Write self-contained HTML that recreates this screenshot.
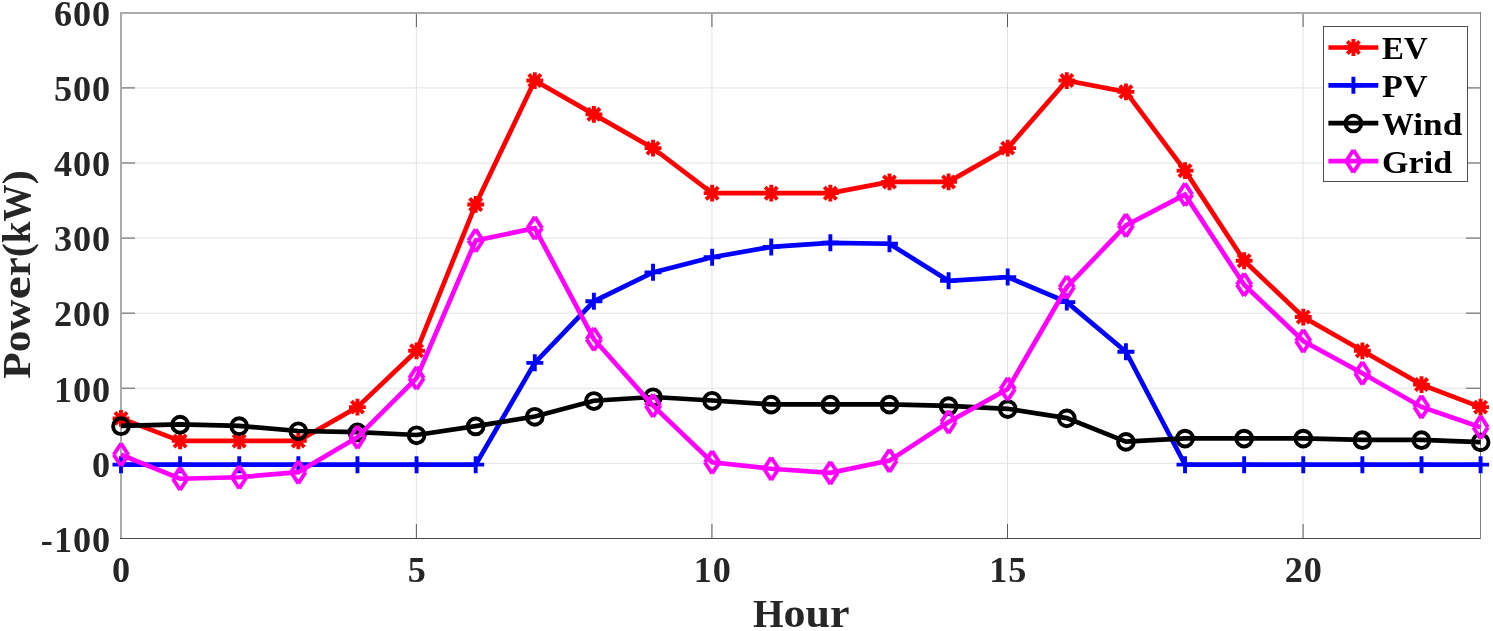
<!DOCTYPE html>
<html lang="en"><head><meta charset="utf-8"><title>Power vs Hour</title>
<style>
html,body{margin:0;padding:0;background:#fff;}
body{width:1493px;height:631px;overflow:hidden;}
svg{display:block;}
text{font-family:"Liberation Serif","DejaVu Serif",serif;font-weight:bold;}
.tk{font-size:34.8px;fill:#262626;letter-spacing:0.96px;}
.lb{font-size:40.4px;fill:#262626;}
.lg{font-size:32.4px;fill:#000;}
</style></head><body>
<svg width="1493" height="631" viewBox="0 0 1493 631">
<rect width="1493" height="631" fill="#fff"/>
<g fill="#e2e2e2"><rect x="122" y="87.42" width="1358" height="1"/><rect x="122" y="162.49" width="1358" height="1"/><rect x="122" y="237.56" width="1358" height="1"/><rect x="122" y="312.64" width="1358" height="1"/><rect x="122" y="387.71" width="1358" height="1"/><rect x="122" y="462.78" width="1358" height="1"/><rect x="415.87" y="14" width="1" height="524"/><rect x="711.43" y="14" width="1" height="524"/><rect x="1007" y="14" width="1" height="524"/><rect x="1302.56" y="14" width="1" height="524"/></g>
<g shape-rendering="crispEdges"><rect x="120" y="12" width="1361" height="2" fill="#aaaaaa"/><rect x="120" y="12" width="2" height="527" fill="#aaaaaa"/><rect x="120" y="538" width="1361" height="1" fill="#4a4a4a"/><rect x="1480" y="12" width="1" height="527" fill="#808080"/></g>
<g fill="#5a5a5a"><rect x="415.87" y="524" width="1" height="14"/><rect x="415.87" y="14" width="1" height="13"/><rect x="711.43" y="524" width="1" height="14"/><rect x="711.43" y="14" width="1" height="13"/><rect x="1007" y="524" width="1" height="14"/><rect x="1007" y="14" width="1" height="13"/><rect x="1302.56" y="524" width="1" height="14"/><rect x="1302.56" y="14" width="1" height="13"/><rect x="122" y="87.42" width="13" height="1"/><rect x="1466" y="87.42" width="14" height="1"/><rect x="122" y="162.49" width="13" height="1"/><rect x="1466" y="162.49" width="14" height="1"/><rect x="122" y="237.56" width="13" height="1"/><rect x="1466" y="237.56" width="14" height="1"/><rect x="122" y="312.64" width="13" height="1"/><rect x="1466" y="312.64" width="14" height="1"/><rect x="122" y="387.71" width="13" height="1"/><rect x="1466" y="387.71" width="14" height="1"/><rect x="122" y="462.78" width="13" height="1"/><rect x="1466" y="462.78" width="14" height="1"/></g>
<polyline points="121,418.39 180.11,440.91 239.23,440.91 298.34,440.91 357.45,407.12 416.57,350.82 475.68,204.43 534.79,80.56 593.9,114.35 653.02,148.13 712.13,193.17 771.24,193.17 830.36,193.17 889.47,181.91 948.58,181.91 1007.7,148.13 1066.81,80.56 1125.92,91.83 1185.03,170.65 1244.15,260.74 1303.26,317.04 1362.37,350.82 1421.49,384.6 1480.6,407.12" fill="none" stroke="#ff0000" stroke-width="4.7" stroke-linejoin="miter"/>
<path d="M112.6 418.39H129.4M121 409.99V426.79M114.9 412.29L127.1 424.49M114.9 424.49L127.1 412.29" stroke="#ff0000" stroke-width="3.9" fill="none"/><path d="M171.71 440.91H188.51M180.11 432.51V449.31M174.01 434.81L186.21 447.01M174.01 447.01L186.21 434.81" stroke="#ff0000" stroke-width="3.9" fill="none"/><path d="M230.83 440.91H247.63M239.23 432.51V449.31M233.13 434.81L245.33 447.01M233.13 447.01L245.33 434.81" stroke="#ff0000" stroke-width="3.9" fill="none"/><path d="M289.94 440.91H306.74M298.34 432.51V449.31M292.24 434.81L304.44 447.01M292.24 447.01L304.44 434.81" stroke="#ff0000" stroke-width="3.9" fill="none"/><path d="M349.05 407.12H365.85M357.45 398.73V415.52M351.35 401.02L363.55 413.23M351.35 413.23L363.55 401.02" stroke="#ff0000" stroke-width="3.9" fill="none"/><path d="M408.17 350.82H424.97M416.57 342.42V359.22M410.47 344.72L422.67 356.92M410.47 356.92L422.67 344.72" stroke="#ff0000" stroke-width="3.9" fill="none"/><path d="M467.28 204.43H484.08M475.68 196.03V212.83M469.58 198.33L481.78 210.53M469.58 210.53L481.78 198.33" stroke="#ff0000" stroke-width="3.9" fill="none"/><path d="M526.39 80.56H543.19M534.79 72.16V88.96M528.69 74.46L540.89 86.66M528.69 86.66L540.89 74.46" stroke="#ff0000" stroke-width="3.9" fill="none"/><path d="M585.5 114.35H602.3M593.9 105.95V122.75M587.8 108.25L600 120.45M587.8 120.45L600 108.25" stroke="#ff0000" stroke-width="3.9" fill="none"/><path d="M644.62 148.13H661.42M653.02 139.73V156.53M646.92 142.03L659.12 154.23M646.92 154.23L659.12 142.03" stroke="#ff0000" stroke-width="3.9" fill="none"/><path d="M703.73 193.17H720.53M712.13 184.77V201.57M706.03 187.07L718.23 199.27M706.03 199.27L718.23 187.07" stroke="#ff0000" stroke-width="3.9" fill="none"/><path d="M762.84 193.17H779.64M771.24 184.77V201.57M765.14 187.07L777.34 199.27M765.14 199.27L777.34 187.07" stroke="#ff0000" stroke-width="3.9" fill="none"/><path d="M821.96 193.17H838.76M830.36 184.77V201.57M824.26 187.07L836.46 199.27M824.26 199.27L836.46 187.07" stroke="#ff0000" stroke-width="3.9" fill="none"/><path d="M881.07 181.91H897.87M889.47 173.51V190.31M883.37 175.81L895.57 188.01M883.37 188.01L895.57 175.81" stroke="#ff0000" stroke-width="3.9" fill="none"/><path d="M940.18 181.91H956.98M948.58 173.51V190.31M942.48 175.81L954.68 188.01M942.48 188.01L954.68 175.81" stroke="#ff0000" stroke-width="3.9" fill="none"/><path d="M999.3 148.13H1016.1M1007.7 139.73V156.53M1001.6 142.03L1013.8 154.23M1001.6 154.23L1013.8 142.03" stroke="#ff0000" stroke-width="3.9" fill="none"/><path d="M1058.41 80.56H1075.21M1066.81 72.16V88.96M1060.71 74.46L1072.91 86.66M1060.71 86.66L1072.91 74.46" stroke="#ff0000" stroke-width="3.9" fill="none"/><path d="M1117.52 91.83H1134.32M1125.92 83.42V100.23M1119.82 85.73L1132.02 97.92M1119.82 97.92L1132.02 85.73" stroke="#ff0000" stroke-width="3.9" fill="none"/><path d="M1176.63 170.65H1193.43M1185.03 162.25V179.05M1178.93 164.55L1191.13 176.75M1178.93 176.75L1191.13 164.55" stroke="#ff0000" stroke-width="3.9" fill="none"/><path d="M1235.75 260.74H1252.55M1244.15 252.34V269.14M1238.05 254.64L1250.25 266.84M1238.05 266.84L1250.25 254.64" stroke="#ff0000" stroke-width="3.9" fill="none"/><path d="M1294.86 317.04H1311.66M1303.26 308.64V325.44M1297.16 310.94L1309.36 323.14M1297.16 323.14L1309.36 310.94" stroke="#ff0000" stroke-width="3.9" fill="none"/><path d="M1353.97 350.82H1370.77M1362.37 342.42V359.22M1356.27 344.72L1368.47 356.92M1356.27 356.92L1368.47 344.72" stroke="#ff0000" stroke-width="3.9" fill="none"/><path d="M1413.09 384.6H1429.89M1421.49 376.2V393M1415.39 378.5L1427.59 390.7M1415.39 390.7L1427.59 378.5" stroke="#ff0000" stroke-width="3.9" fill="none"/><path d="M1472.2 407.12H1489M1480.6 398.73V415.52M1474.5 401.02L1486.7 413.23M1474.5 413.23L1486.7 401.02" stroke="#ff0000" stroke-width="3.9" fill="none"/>
<polyline points="121,464.63 180.11,464.63 239.23,464.63 298.34,464.63 357.45,464.63 416.57,464.63 475.68,464.63 534.79,362.83 593.9,301.27 653.02,272.37 712.13,257.21 771.24,246.92 830.36,242.79 889.47,243.77 948.58,280.85 1007.7,277.1 1066.81,302.1 1125.92,351.72 1185.03,464.63 1244.15,464.63 1303.26,464.63 1362.37,464.63 1421.49,464.63 1480.6,464.63" fill="none" stroke="#0000ff" stroke-width="4.7" stroke-linejoin="miter"/>
<path d="M112.5 464.63H129.5M121 456.13V473.13" stroke="#0000ff" stroke-width="3.9" fill="none"/><path d="M171.61 464.63H188.61M180.11 456.13V473.13" stroke="#0000ff" stroke-width="3.9" fill="none"/><path d="M230.73 464.63H247.73M239.23 456.13V473.13" stroke="#0000ff" stroke-width="3.9" fill="none"/><path d="M289.84 464.63H306.84M298.34 456.13V473.13" stroke="#0000ff" stroke-width="3.9" fill="none"/><path d="M348.95 464.63H365.95M357.45 456.13V473.13" stroke="#0000ff" stroke-width="3.9" fill="none"/><path d="M408.07 464.63H425.07M416.57 456.13V473.13" stroke="#0000ff" stroke-width="3.9" fill="none"/><path d="M467.18 464.63H484.18M475.68 456.13V473.13" stroke="#0000ff" stroke-width="3.9" fill="none"/><path d="M526.29 362.83H543.29M534.79 354.33V371.33" stroke="#0000ff" stroke-width="3.9" fill="none"/><path d="M585.4 301.27H602.4M593.9 292.77V309.77" stroke="#0000ff" stroke-width="3.9" fill="none"/><path d="M644.52 272.37H661.52M653.02 263.87V280.87" stroke="#0000ff" stroke-width="3.9" fill="none"/><path d="M703.63 257.21H720.63M712.13 248.71V265.71" stroke="#0000ff" stroke-width="3.9" fill="none"/><path d="M762.74 246.92H779.74M771.24 238.42V255.42" stroke="#0000ff" stroke-width="3.9" fill="none"/><path d="M821.86 242.79H838.86M830.36 234.29V251.29" stroke="#0000ff" stroke-width="3.9" fill="none"/><path d="M880.97 243.77H897.97M889.47 235.27V252.27" stroke="#0000ff" stroke-width="3.9" fill="none"/><path d="M940.08 280.85H957.08M948.58 272.35V289.35" stroke="#0000ff" stroke-width="3.9" fill="none"/><path d="M999.2 277.1H1016.2M1007.7 268.6V285.6" stroke="#0000ff" stroke-width="3.9" fill="none"/><path d="M1058.31 302.1H1075.31M1066.81 293.6V310.6" stroke="#0000ff" stroke-width="3.9" fill="none"/><path d="M1117.42 351.72H1134.42M1125.92 343.22V360.22" stroke="#0000ff" stroke-width="3.9" fill="none"/><path d="M1176.53 464.63H1193.53M1185.03 456.13V473.13" stroke="#0000ff" stroke-width="3.9" fill="none"/><path d="M1235.65 464.63H1252.65M1244.15 456.13V473.13" stroke="#0000ff" stroke-width="3.9" fill="none"/><path d="M1294.76 464.63H1311.76M1303.26 456.13V473.13" stroke="#0000ff" stroke-width="3.9" fill="none"/><path d="M1353.87 464.63H1370.87M1362.37 456.13V473.13" stroke="#0000ff" stroke-width="3.9" fill="none"/><path d="M1412.99 464.63H1429.99M1421.49 456.13V473.13" stroke="#0000ff" stroke-width="3.9" fill="none"/><path d="M1472.1 464.63H1489.1M1480.6 456.13V473.13" stroke="#0000ff" stroke-width="3.9" fill="none"/>
<polyline points="121,425.89 180.11,424.39 239.23,425.89 298.34,431 357.45,432.12 416.57,434.98 475.68,426.12 534.79,416.51 593.9,400.74 653.02,396.99 712.13,400.52 771.24,404.35 830.36,404.35 889.47,404.35 948.58,405.92 1007.7,408.78 1066.81,418.09 1125.92,441.58 1185.03,438.28 1244.15,438.28 1303.26,438.28 1362.37,439.86 1421.49,439.86 1480.6,442.03" fill="none" stroke="#000000" stroke-width="4.7" stroke-linejoin="miter"/>
<circle cx="121" cy="426.19" r="7.9" stroke="#000000" stroke-width="3.9" fill="none"/><circle cx="180.11" cy="424.69" r="7.9" stroke="#000000" stroke-width="3.9" fill="none"/><circle cx="239.23" cy="426.19" r="7.9" stroke="#000000" stroke-width="3.9" fill="none"/><circle cx="298.34" cy="431.3" r="7.9" stroke="#000000" stroke-width="3.9" fill="none"/><circle cx="357.45" cy="432.42" r="7.9" stroke="#000000" stroke-width="3.9" fill="none"/><circle cx="416.57" cy="435.28" r="7.9" stroke="#000000" stroke-width="3.9" fill="none"/><circle cx="475.68" cy="426.42" r="7.9" stroke="#000000" stroke-width="3.9" fill="none"/><circle cx="534.79" cy="416.81" r="7.9" stroke="#000000" stroke-width="3.9" fill="none"/><circle cx="593.9" cy="401.04" r="7.9" stroke="#000000" stroke-width="3.9" fill="none"/><circle cx="653.02" cy="397.29" r="7.9" stroke="#000000" stroke-width="3.9" fill="none"/><circle cx="712.13" cy="400.82" r="7.9" stroke="#000000" stroke-width="3.9" fill="none"/><circle cx="771.24" cy="404.65" r="7.9" stroke="#000000" stroke-width="3.9" fill="none"/><circle cx="830.36" cy="404.65" r="7.9" stroke="#000000" stroke-width="3.9" fill="none"/><circle cx="889.47" cy="404.65" r="7.9" stroke="#000000" stroke-width="3.9" fill="none"/><circle cx="948.58" cy="406.22" r="7.9" stroke="#000000" stroke-width="3.9" fill="none"/><circle cx="1007.7" cy="409.08" r="7.9" stroke="#000000" stroke-width="3.9" fill="none"/><circle cx="1066.81" cy="418.39" r="7.9" stroke="#000000" stroke-width="3.9" fill="none"/><circle cx="1125.92" cy="441.88" r="7.9" stroke="#000000" stroke-width="3.9" fill="none"/><circle cx="1185.03" cy="438.58" r="7.9" stroke="#000000" stroke-width="3.9" fill="none"/><circle cx="1244.15" cy="438.58" r="7.9" stroke="#000000" stroke-width="3.9" fill="none"/><circle cx="1303.26" cy="438.58" r="7.9" stroke="#000000" stroke-width="3.9" fill="none"/><circle cx="1362.37" cy="440.16" r="7.9" stroke="#000000" stroke-width="3.9" fill="none"/><circle cx="1421.49" cy="440.16" r="7.9" stroke="#000000" stroke-width="3.9" fill="none"/><circle cx="1480.6" cy="442.33" r="7.9" stroke="#000000" stroke-width="3.9" fill="none"/>
<polyline points="121,454.72 180.11,478.74 239.23,477.24 298.34,472.14 357.45,437.23 416.57,378.07 475.68,240.54 534.79,228.08 593.9,339.19 653.02,405.62 712.13,462.3 771.24,468.76 830.36,472.89 889.47,460.65 948.58,421.99 1007.7,389.11 1066.81,287.24 1125.92,225.38 1185.03,194.6 1244.15,284.68 1303.26,340.99 1362.37,373.19 1421.49,406.97 1480.6,427.32" fill="none" stroke="#ff00ff" stroke-width="4.7" stroke-linejoin="miter"/>
<path d="M121 443.52L128.3 454.72M128.3 454.72L121 465.92M121 465.92L113.7 454.72M113.7 454.72L121 443.52" stroke="#ff00ff" stroke-width="3.9" fill="none" stroke-linecap="butt"/><path d="M180.11 467.54L187.41 478.74M187.41 478.74L180.11 489.94M180.11 489.94L172.81 478.74M172.81 478.74L180.11 467.54" stroke="#ff00ff" stroke-width="3.9" fill="none" stroke-linecap="butt"/><path d="M239.23 466.04L246.53 477.24M246.53 477.24L239.23 488.44M239.23 488.44L231.93 477.24M231.93 477.24L239.23 466.04" stroke="#ff00ff" stroke-width="3.9" fill="none" stroke-linecap="butt"/><path d="M298.34 460.94L305.64 472.14M305.64 472.14L298.34 483.34M298.34 483.34L291.04 472.14M291.04 472.14L298.34 460.94" stroke="#ff00ff" stroke-width="3.9" fill="none" stroke-linecap="butt"/><path d="M357.45 426.03L364.75 437.23M364.75 437.23L357.45 448.43M357.45 448.43L350.15 437.23M350.15 437.23L357.45 426.03" stroke="#ff00ff" stroke-width="3.9" fill="none" stroke-linecap="butt"/><path d="M416.57 366.87L423.87 378.07M423.87 378.07L416.57 389.27M416.57 389.27L409.27 378.07M409.27 378.07L416.57 366.87" stroke="#ff00ff" stroke-width="3.9" fill="none" stroke-linecap="butt"/><path d="M475.68 229.34L482.98 240.54M482.98 240.54L475.68 251.74M475.68 251.74L468.38 240.54M468.38 240.54L475.68 229.34" stroke="#ff00ff" stroke-width="3.9" fill="none" stroke-linecap="butt"/><path d="M534.79 216.88L542.09 228.08M542.09 228.08L534.79 239.28M534.79 239.28L527.49 228.08M527.49 228.08L534.79 216.88" stroke="#ff00ff" stroke-width="3.9" fill="none" stroke-linecap="butt"/><path d="M593.9 327.99L601.2 339.19M601.2 339.19L593.9 350.39M593.9 350.39L586.6 339.19M586.6 339.19L593.9 327.99" stroke="#ff00ff" stroke-width="3.9" fill="none" stroke-linecap="butt"/><path d="M653.02 394.42L660.32 405.62M660.32 405.62L653.02 416.82M653.02 416.82L645.72 405.62M645.72 405.62L653.02 394.42" stroke="#ff00ff" stroke-width="3.9" fill="none" stroke-linecap="butt"/><path d="M712.13 451.1L719.43 462.3M719.43 462.3L712.13 473.5M712.13 473.5L704.83 462.3M704.83 462.3L712.13 451.1" stroke="#ff00ff" stroke-width="3.9" fill="none" stroke-linecap="butt"/><path d="M771.24 457.56L778.54 468.76M778.54 468.76L771.24 479.96M771.24 479.96L763.94 468.76M763.94 468.76L771.24 457.56" stroke="#ff00ff" stroke-width="3.9" fill="none" stroke-linecap="butt"/><path d="M830.36 461.69L837.66 472.89M837.66 472.89L830.36 484.09M830.36 484.09L823.06 472.89M823.06 472.89L830.36 461.69" stroke="#ff00ff" stroke-width="3.9" fill="none" stroke-linecap="butt"/><path d="M889.47 449.45L896.77 460.65M896.77 460.65L889.47 471.85M889.47 471.85L882.17 460.65M882.17 460.65L889.47 449.45" stroke="#ff00ff" stroke-width="3.9" fill="none" stroke-linecap="butt"/><path d="M948.58 410.79L955.88 421.99M955.88 421.99L948.58 433.19M948.58 433.19L941.28 421.99M941.28 421.99L948.58 410.79" stroke="#ff00ff" stroke-width="3.9" fill="none" stroke-linecap="butt"/><path d="M1007.7 377.91L1015 389.11M1015 389.11L1007.7 400.31M1007.7 400.31L1000.4 389.11M1000.4 389.11L1007.7 377.91" stroke="#ff00ff" stroke-width="3.9" fill="none" stroke-linecap="butt"/><path d="M1066.81 276.04L1074.11 287.24M1074.11 287.24L1066.81 298.44M1066.81 298.44L1059.51 287.24M1059.51 287.24L1066.81 276.04" stroke="#ff00ff" stroke-width="3.9" fill="none" stroke-linecap="butt"/><path d="M1125.92 214.18L1133.22 225.38M1133.22 225.38L1125.92 236.58M1125.92 236.58L1118.62 225.38M1118.62 225.38L1125.92 214.18" stroke="#ff00ff" stroke-width="3.9" fill="none" stroke-linecap="butt"/><path d="M1185.03 183.4L1192.33 194.6M1192.33 194.6L1185.03 205.8M1185.03 205.8L1177.73 194.6M1177.73 194.6L1185.03 183.4" stroke="#ff00ff" stroke-width="3.9" fill="none" stroke-linecap="butt"/><path d="M1244.15 273.48L1251.45 284.68M1251.45 284.68L1244.15 295.88M1244.15 295.88L1236.85 284.68M1236.85 284.68L1244.15 273.48" stroke="#ff00ff" stroke-width="3.9" fill="none" stroke-linecap="butt"/><path d="M1303.26 329.79L1310.56 340.99M1310.56 340.99L1303.26 352.19M1303.26 352.19L1295.96 340.99M1295.96 340.99L1303.26 329.79" stroke="#ff00ff" stroke-width="3.9" fill="none" stroke-linecap="butt"/><path d="M1362.37 361.99L1369.67 373.19M1369.67 373.19L1362.37 384.39M1362.37 384.39L1355.07 373.19M1355.07 373.19L1362.37 361.99" stroke="#ff00ff" stroke-width="3.9" fill="none" stroke-linecap="butt"/><path d="M1421.49 395.77L1428.79 406.97M1428.79 406.97L1421.49 418.17M1421.49 418.17L1414.19 406.97M1414.19 406.97L1421.49 395.77" stroke="#ff00ff" stroke-width="3.9" fill="none" stroke-linecap="butt"/><path d="M1480.6 416.12L1487.9 427.32M1487.9 427.32L1480.6 438.52M1480.6 438.52L1473.3 427.32M1473.3 427.32L1480.6 416.12" stroke="#ff00ff" stroke-width="3.9" fill="none" stroke-linecap="butt"/>
<text class="tk" transform="translate(111.2 26.2) scale(1.04 1)" text-anchor="end">600</text><text class="tk" transform="translate(111.2 101.27) scale(1.04 1)" text-anchor="end">500</text><text class="tk" transform="translate(111.2 176.34) scale(1.04 1)" text-anchor="end">400</text><text class="tk" transform="translate(111.2 251.41) scale(1.04 1)" text-anchor="end">300</text><text class="tk" transform="translate(111.2 326.49) scale(1.04 1)" text-anchor="end">200</text><text class="tk" transform="translate(111.2 401.56) scale(1.04 1)" text-anchor="end">100</text><text class="tk" transform="translate(111.2 476.63) scale(1.04 1)" text-anchor="end">0</text><text class="tk" transform="translate(111.2 551.7) scale(1.04 1)" text-anchor="end">-100</text><text class="tk" transform="translate(121.6 582.3) scale(1.04 1)" text-anchor="middle">0</text><text class="tk" transform="translate(417.17 582.3) scale(1.04 1)" text-anchor="middle">5</text><text class="tk" transform="translate(712.73 582.3) scale(1.04 1)" text-anchor="middle">10</text><text class="tk" transform="translate(1008.3 582.3) scale(1.04 1)" text-anchor="middle">15</text><text class="tk" transform="translate(1303.86 582.3) scale(1.04 1)" text-anchor="middle">20</text>

<text class="lb" x="752.9" y="627.4"><tspan textLength="30.6" lengthAdjust="spacingAndGlyphs">H</tspan><tspan textLength="66" lengthAdjust="spacingAndGlyphs">our</tspan></text>
<text class="lb" transform="translate(30.4 378.7) rotate(-90)"><tspan textLength="79.3" lengthAdjust="spacingAndGlyphs">Pow</tspan><tspan textLength="23.4" lengthAdjust="spacingAndGlyphs">e</tspan><tspan textLength="32.7" lengthAdjust="spacingAndGlyphs">r(</tspan><tspan textLength="21.7" lengthAdjust="spacingAndGlyphs">k</tspan><tspan textLength="37" lengthAdjust="spacingAndGlyphs">W</tspan><tspan textLength="14.4" lengthAdjust="spacingAndGlyphs">)</tspan></text>
<g shape-rendering="crispEdges"><rect x="1323.5" y="26.5" width="144" height="155" fill="#fff" stroke="#4d4d4d" stroke-width="1"/></g>
<path d="M1328.4 47.5H1378.3" stroke="#ff0000" stroke-width="4.7" fill="none"/><path d="M1345 47.5H1361.8M1353.4 39.1V55.9M1347.3 41.4L1359.5 53.6M1347.3 53.6L1359.5 41.4" stroke="#ff0000" stroke-width="3.9" fill="none"/><text class="lg" x="1382.1" y="58.9"><tspan textLength="45.6" lengthAdjust="spacingAndGlyphs">EV</tspan></text>
<path d="M1328.4 85.3H1378.3" stroke="#0000ff" stroke-width="4.7" fill="none"/><path d="M1344.9 85.3H1361.9M1353.4 76.8V93.8" stroke="#0000ff" stroke-width="3.9" fill="none"/><text class="lg" x="1382.1" y="96.7"><tspan textLength="45.4" lengthAdjust="spacingAndGlyphs">PV</tspan></text>
<path d="M1328.4 123.2H1378.3" stroke="#000000" stroke-width="4.7" fill="none"/><circle cx="1353.4" cy="123.5" r="7.9" stroke="#000000" stroke-width="3.9" fill="none"/><text class="lg" x="1382.1" y="134.6"><tspan textLength="31.2" lengthAdjust="spacingAndGlyphs">W</tspan><tspan textLength="49" lengthAdjust="spacingAndGlyphs">ind</tspan></text>
<path d="M1328.4 161.2H1378.3" stroke="#ff00ff" stroke-width="4.7" fill="none"/><path d="M1353.4 150L1360.7 161.2M1360.7 161.2L1353.4 172.4M1353.4 172.4L1346.1 161.2M1346.1 161.2L1353.4 150" stroke="#ff00ff" stroke-width="3.9" fill="none" stroke-linecap="butt"/><text class="lg" x="1382.1" y="172.6"><tspan textLength="70" lengthAdjust="spacingAndGlyphs">Grid</tspan></text>
</svg>
</body></html>
